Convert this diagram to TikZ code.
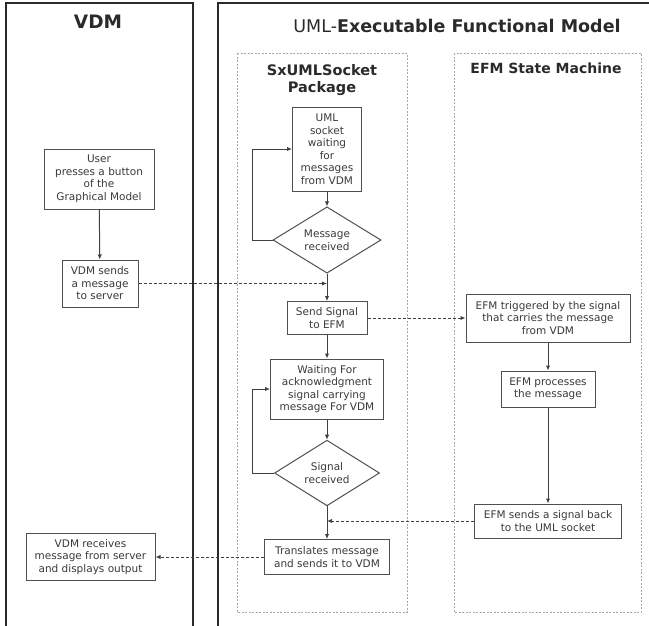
\documentclass[tikz,border=0pt]{standalone}
\usepackage{fontspec}
\setmainfont{DejaVu Sans}
\usetikzlibrary{shapes.geometric,arrows.meta}
\definecolor{txt}{HTML}{3A3A3A}
\definecolor{boxc}{HTML}{505050}
\definecolor{linec}{HTML}{404040}
\definecolor{framec}{HTML}{2A2A2A}
\definecolor{pkgc}{HTML}{A8A8A8}
\begin{document}
\begin{tikzpicture}[x=1pt,y=-1pt,
  box/.style={draw=boxc, line width=1pt, fill=white, text=txt,
    font=\fontsize{10.5}{12.5}\selectfont, align=center, inner sep=1pt},
  dia/.style={box, diamond, inner sep=0pt},
  flow/.style={draw=linec, line width=1pt, -{Latex[length=5pt,width=4.5pt]}},
  sigl/.style={flow, dash pattern=on 3pt off 2pt},
  frm/.style={draw=framec, line width=2pt},
  pkg/.style={draw=pkgc, line width=0.8pt, dash pattern=on 2pt off 1.5pt},
  ttl/.style={text=framec, inner sep=0pt, align=center}]
\useasboundingbox (0,0) rectangle (649,625);
% frames
\draw[frm] (6,627) -- (6,3) -- (193,3) -- (193,627);
\draw[frm] (218,627) -- (218,3) -- (651,3);
\draw[pkg] (237,53) rectangle (407,612);
\draw[pkg] (454,53) rectangle (641,612);
% titles
\node[ttl, font=\bfseries\fontsize{18.5}{22}\selectfont] (tvdm) at (98,22) {VDM};
\node[ttl, font=\fontsize{17.5}{20}\selectfont] (tuml) at (457,26) {UML-\textbf{Executable Functional Model}};
\node[ttl, font=\bfseries\fontsize{14.5}{17}\selectfont] (tpkg) at (322,80) {SxUMLSocket\\Package};
\node[ttl, font=\bfseries\fontsize{14}{17}\selectfont] (tefm) at (546,68) {EFM State Machine};
% VDM nodes
\node[box, minimum width=110pt, minimum height=60pt] (user) at (99,179) {User\\presses a button\\of the\\Graphical Model};
\node[box, minimum width=76pt, minimum height=47pt] (vsend) at (100,283.5) {VDM sends\\a message\\to server};
\node[box, minimum width=129pt, minimum height=47pt] (vrecv) at (90.5,557) {VDM receives\\message from server\\and displays output};
% socket package
\node[box, minimum width=69pt, minimum height=84pt] (sock) at (327,149) {UML\\socket\\waiting\\for\\messages\\from VDM};
\node[dia, minimum width=108pt, minimum height=59pt] (msg) at (327,240) {Message\\received};
\node[box, minimum width=80pt, minimum height=33pt] (send) at (327,318) {Send Signal\\to EFM};
\node[box, minimum width=113pt, minimum height=60pt] (wait) at (327,389) {Waiting For\\acknowledgment\\signal carrying\\message For VDM};
\node[dia, minimum width=105pt, minimum height=58pt] (sig) at (327,473) {Signal\\received};
\node[box, minimum width=125pt, minimum height=35pt] (trans) at (327,557) {Translates message\\and sends it to VDM};
% EFM
\node[box, minimum width=164pt, minimum height=48pt] (trig) at (548,318) {EFM triggered by the signal\\that carries the message\\from VDM};
\node[box, minimum width=94pt, minimum height=36pt] (proc) at (548,389) {EFM processes\\the message};
\node[box, minimum width=147pt, minimum height=34pt] (esend) at (548,521) {EFM sends a signal back\\to the UML socket};
% helper coordinates
\coordinate (lx) at (252,0);
\coordinate (j1) at (327,283.5);
\coordinate (j2) at (327,521);
% connectors
\draw[flow] (user) -- (vsend);
\draw[flow] (sock) -- (msg);
\draw[flow] (msg) -- (send);
\draw[flow] (msg.west) -- (msg.west -| lx) |- (sock.west);
\draw[flow] (send) -- (wait);
\draw[flow] (wait) -- (sig);
\draw[flow] (sig.west) -- (sig.west -| lx) |- (wait.west);
\draw[flow] (sig) -- (trans);
\draw[flow] (trig) -- (proc);
\draw[flow] (proc) -- (esend);
\draw[sigl] (vsend.east) -- (j1);
\draw[sigl] (send.east) -- (trig.west);
\draw[sigl] (esend.west) -- (j2);
\draw[sigl] (trans.west) -- (vrecv.east);
\end{tikzpicture}
\end{document}
